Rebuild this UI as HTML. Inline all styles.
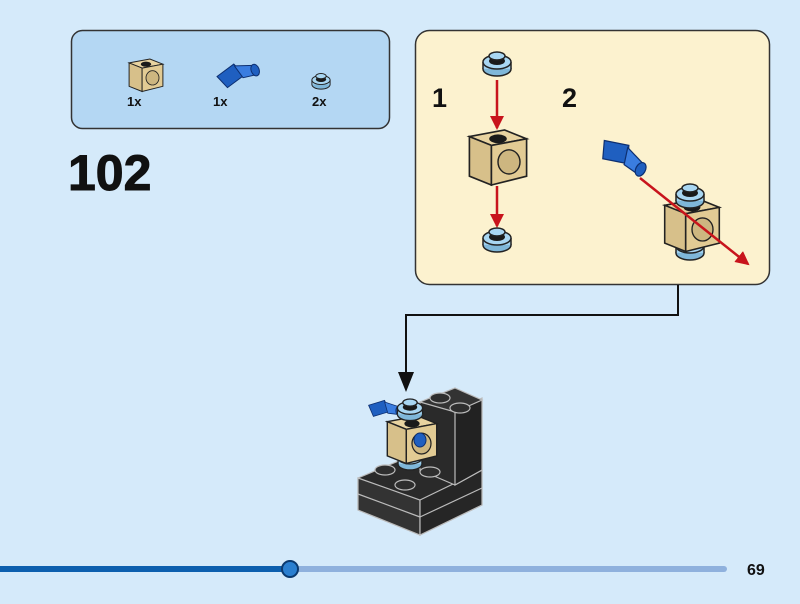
<!DOCTYPE html>
<html><head><meta charset="utf-8"><style>
html,body{margin:0;padding:0;background:#d5eafa;}
svg{display:block}
text{font-family:"Liberation Sans",sans-serif;font-weight:bold;fill:#111}
</style></head><body>
<svg width="800" height="604" viewBox="0 0 800 604" xmlns="http://www.w3.org/2000/svg">
<defs>
 <g id="plate">
  <ellipse cx="0" cy="7" rx="14" ry="7" fill="#7fb7d9" stroke="#222" stroke-width="1.5"/>
  <rect x="-14" y="0" width="28" height="7" fill="#9fd0ee"/>
  <line x1="-14" y1="0" x2="-14" y2="7" stroke="#222" stroke-width="1.5"/>
  <line x1="14" y1="0" x2="14" y2="7" stroke="#222" stroke-width="1.5"/>
  <ellipse cx="0" cy="0" rx="14" ry="7" fill="#a8d6f2" stroke="#222" stroke-width="1.5"/>
  <rect x="-8" y="-6" width="16" height="5" fill="#a8d6f2"/>
  <ellipse cx="0" cy="-1" rx="8" ry="4" fill="#1a1a1a"/>
  <ellipse cx="0" cy="-6" rx="8" ry="4" fill="#a8d6f2" stroke="#222" stroke-width="1.5"/>
 </g>
 <g id="tan">
  <polygon points="-26,-14 6,-20 26,-12 -6,-6" fill="#e8d3a0" stroke="#222" stroke-width="1.5"/>
  <polygon points="-26,-14 -6,-6 -6,30 -26,22" fill="#d7c08a" stroke="#222" stroke-width="1.5"/>
  <polygon points="-6,-6 26,-12 26,22 -6,30" fill="#e2cb94" stroke="#222" stroke-width="1.5"/>
  <ellipse cx="10" cy="9" rx="10" ry="11" fill="#cdb680" stroke="#222" stroke-width="1.3"/>
  <ellipse cx="0" cy="-12" rx="8" ry="4" fill="#1a1a1a"/>
 </g>
 <g id="pin">
  <polygon points="-18,-6 2,-12 8,2 -12,8" fill="#1f5fc0" stroke="#0d2f70" stroke-width="1"/>
  <polygon points="2,-10 20,-4 22,6 6,4" fill="#3a7de0" stroke="#0d2f70" stroke-width="1"/>
  <ellipse cx="20" cy="1" rx="4" ry="6" fill="#1f5fc0" stroke="#0d2f70"/>
 </g>
 <marker id="ar" markerWidth="14" markerHeight="14" refX="12" refY="7" orient="auto" markerUnits="userSpaceOnUse" viewBox="0 0 14 14"><path d="M0,0 L14,7 L0,14 z" fill="#c8141c"/></marker>
</defs>

<rect x="71.5" y="30.5" width="318" height="98" rx="11" fill="#b4d7f3" stroke="#333" stroke-width="1.5"/>
<g transform="translate(146,72) scale(0.65)"><use href="#tan"/></g>
<g transform="translate(236,76) scale(1) rotate(-20)"><use href="#pin"/></g>
<g transform="translate(321,80) scale(0.65)"><use href="#plate"/></g>
<text x="127" y="106" font-size="13">1x</text>
<text x="213" y="106" font-size="13">1x</text>
<text x="312" y="106" font-size="13">2x</text>

<text x="68" y="190" font-size="50" stroke="#111" stroke-width="1">102</text>

<rect x="415.5" y="30.5" width="354" height="254" rx="14" fill="#fcf2cf" stroke="#333" stroke-width="1.5"/>
<text x="432" y="107" font-size="27">1</text>
<text x="562" y="107" font-size="27">2</text>
<g transform="translate(497,62)"><use href="#plate"/></g>
<line x1="497" y1="80" x2="497" y2="128" stroke="#c8141c" stroke-width="2.5" marker-end="url(#ar)"/>
<g transform="translate(498,152) scale(1.1)"><use href="#tan"/></g>
<line x1="497" y1="186" x2="497" y2="226" stroke="#c8141c" stroke-width="2.5" marker-end="url(#ar)"/>
<g transform="translate(497,238)"><use href="#plate"/></g>
<g transform="translate(690,246)"><use href="#plate"/></g>
<g transform="translate(692,220) scale(1.05)"><use href="#tan"/></g>
<g transform="translate(690,194)"><use href="#plate"/></g>
<g transform="translate(620,157) rotate(28) scale(1.2)"><use href="#pin"/></g>
<line x1="640" y1="178" x2="748" y2="264" stroke="#c8141c" stroke-width="2.5" marker-end="url(#ar)"/>

<polyline points="678,285 678,315 406,315 406,385" fill="none" stroke="#111" stroke-width="2"/>
<polygon points="398,372 414,372 406,392" fill="#111"/>

<g stroke="#bbb" stroke-width="1.2">
 <polygon points="358,478 420,452 482,470 482,505 420,535 358,510" fill="#2a2a2a"/>
 <polygon points="358,478 420,500 420,535 358,510" fill="#333"/>
 <polygon points="420,500 482,470 482,505 420,535" fill="#262626"/>
 <line x1="358" y1="494" x2="420" y2="517"/><line x1="420" y1="517" x2="482" y2="488"/>
 <polygon points="420,402 455,388 482,402 482,470 455,485 420,470" fill="#2a2a2a"/>
 <polygon points="455,410 482,398 482,470 455,485" fill="#222"/>
 <polygon points="420,402 455,388 482,400 455,412" fill="#333"/>
</g>
<g fill="#2e2e2e" stroke="#bbb" stroke-width="1.2">
 <ellipse cx="440" cy="398" rx="10" ry="5"/><ellipse cx="460" cy="408" rx="10" ry="5"/>
 <ellipse cx="385" cy="470" rx="10" ry="5"/><ellipse cx="405" cy="485" rx="10" ry="5"/>
 <ellipse cx="430" cy="472" rx="10" ry="5"/>
</g>
<g transform="translate(410,458) scale(0.85)"><use href="#plate"/></g>
<g transform="translate(383,410) scale(0.8)"><use href="#pin"/></g>
<g transform="translate(412,435) scale(0.95)"><use href="#tan"/></g>
<ellipse cx="420" cy="440" rx="6" ry="7" fill="#1f5fc0" stroke="#0d2f70"/>
<g transform="translate(410,408) scale(0.9)"><use href="#plate"/></g>

<line x1="290" y1="569" x2="724" y2="569" stroke="#8fb1dd" stroke-width="6" stroke-linecap="round"/>
<line x1="0" y1="569" x2="290" y2="569" stroke="#0c5fae" stroke-width="6"/>
<circle cx="290" cy="569" r="8" fill="#2a7fd0" stroke="#0a3a70" stroke-width="2"/>
<text x="747" y="575" font-size="16">69</text>
</svg>
</body></html>
